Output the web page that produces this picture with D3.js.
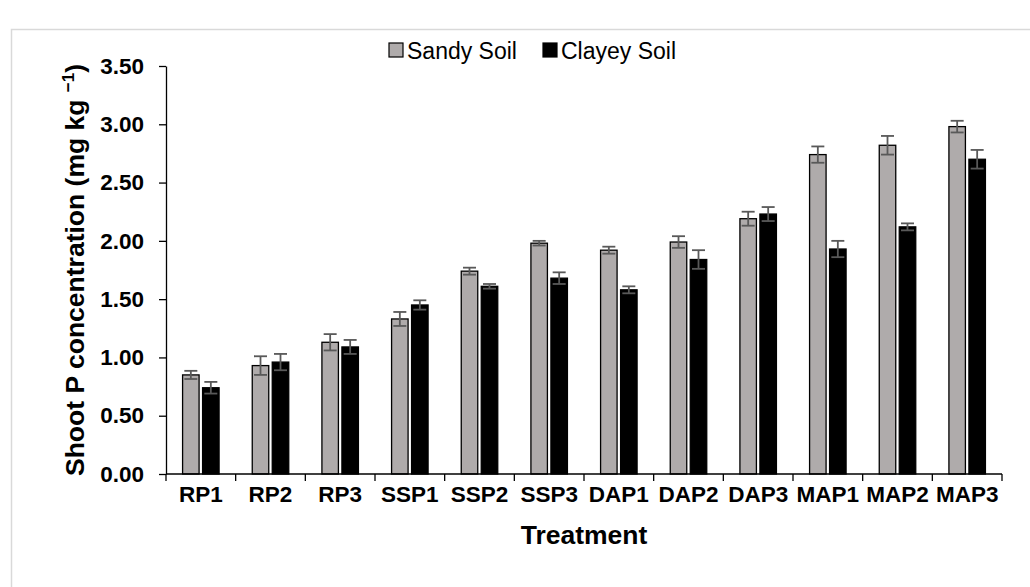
<!DOCTYPE html>
<meta charset="utf-8">
<style>
body { margin: 0; background: #fff; }
svg { display: block; font-family: "Liberation Sans", Arial, sans-serif; }
.axis path, .axis line { stroke: #000; stroke-width: 1.3px; }
.axis text { font-size: 22.5px; font-weight: 700; fill: #000; }
.title { font-size: 26.5px; font-weight: 700; fill: #000; }
.legend text { font-size: 23px; fill: #000; }
</style>
<svg id="chart"></svg>
<script src="https://d3js.org/d3.v7.min.js"></script>
<script>

// values
const treatments = ["RP1", "RP2", "RP3", "SSP1", "SSP2", "SSP3", "DAP1", "DAP2", "DAP3", "MAP1", "MAP2", "MAP3"];
const seriesNames = ["Sandy Soil", "Clayey Soil"];
const sandy    = [0.85, 0.93, 1.13, 1.33, 1.74, 1.98, 1.92, 1.99, 2.19, 2.74, 2.82, 2.98];
const sandyErr = [0.035, 0.08, 0.07, 0.06, 0.03, 0.02, 0.03, 0.05, 0.06, 0.07, 0.08, 0.05];
const clayey   = [0.74, 0.96, 1.09, 1.45, 1.61, 1.68, 1.58, 1.84, 2.23, 1.93, 2.12, 2.70];
const clayErr  = [0.05, 0.07, 0.06, 0.04, 0.02, 0.05, 0.03, 0.08, 0.06, 0.07, 0.03, 0.08];
const yTicks = [0, 0.5, 1, 1.5, 2, 2.5, 3, 3.5];
const colors = ["#afabab", "#000000"];

let svg = d3.select("#chart")
  .attr("width", 1030)
  .attr("height", 587);

// light frame of the chart area (runs off the right and bottom)
svg.append("rect")
  .attr("x", 11.5).attr("y", 29.5)
  .attr("width", 1100).attr("height", 700)
  .attr("fill", "none")
  .attr("stroke", "#d9d9d9")
  .attr("stroke-width", 1.5);

let plot = {left: 166, right: 1002, top: 66, bottom: 474};

let x0 = d3.scaleBand()
  .domain(treatments)
  .range([plot.left, plot.right]);

let x1 = d3.scaleBand()
  .domain(seriesNames)
  .range([x0.bandwidth() / 2 - 18.25, x0.bandwidth() / 2 + 18.25])
  .paddingInner(0.175);

let y = d3.scaleLinear()
  .domain([0, 3.5])
  .range([plot.bottom, plot.top]);

let data = treatments.map((t, i) => ({
  t: t,
  vals: [
    {s: seriesNames[0], v: sandy[i], e: sandyErr[i]},
    {s: seriesNames[1], v: clayey[i], e: clayErr[i]}
  ]
}));

// y axis
let yAxis = svg.append("g")
  .attr("class", "axis")
  .attr("transform", "translate(" + plot.left + ",0)")
  .call(d3.axisLeft(y).tickValues(yTicks).tickFormat(d3.format(".2f")).tickSize(7).tickSizeOuter(0));
yAxis.selectAll("text").attr("x", -22);

// bars
let groups = svg.selectAll(".grp")
  .data(data)
  .enter()
  .append("g")
  .attr("class", "grp")
  .attr("transform", d => "translate(" + x0(d.t) + ",0)");

groups.selectAll("rect")
  .data(d => d.vals)
  .enter()
  .append("rect")
  .attr("x", d => x1(d.s))
  .attr("y", d => y(d.v))
  .attr("width", x1.bandwidth())
  .attr("height", d => plot.bottom - y(d.v))
  .attr("fill", (d, i) => colors[i])
  .attr("stroke", "#000")
  .attr("stroke-width", 1.3);

// error bars
let eb = groups.selectAll(".err")
  .data(d => d.vals)
  .enter()
  .append("g")
  .attr("class", "err")
  .attr("stroke", "#595959")
  .attr("stroke-width", 1.8);

let cx = d => x1(d.s) + x1.bandwidth() / 2;
eb.append("line")
  .attr("x1", cx).attr("x2", cx)
  .attr("y1", d => y(d.v + d.e))
  .attr("y2", d => y(d.v - d.e));
eb.append("line")
  .attr("x1", d => cx(d) - 6.5).attr("x2", d => cx(d) + 6.5)
  .attr("y1", d => y(d.v + d.e))
  .attr("y2", d => y(d.v + d.e));
eb.append("line")
  .attr("x1", d => cx(d) - 6.5).attr("x2", d => cx(d) + 6.5)
  .attr("y1", d => y(d.v - d.e))
  .attr("y2", d => y(d.v - d.e));

// x axis: ticks sit between categories
let xAxis = svg.append("g")
  .attr("class", "axis")
  .attr("transform", "translate(0," + plot.bottom + ")");
xAxis.append("line")
  .attr("x1", plot.left).attr("x2", plot.right);
xAxis.selectAll(".tk")
  .data(treatments.concat(["end"]))
  .enter()
  .append("line")
  .attr("class", "tk")
  .attr("x1", (d, i) => i < treatments.length ? x0(d) : plot.right)
  .attr("x2", (d, i) => i < treatments.length ? x0(d) : plot.right)
  .attr("y1", 0).attr("y2", 7);
xAxis.selectAll(".lbl")
  .data(treatments)
  .enter()
  .append("text")
  .attr("class", "lbl")
  .attr("x", d => x0(d) + x0.bandwidth() / 2)
  .attr("y", 28)
  .attr("text-anchor", "middle")
  .text(d => d);

// axis titles
svg.append("text")
  .attr("class", "title")
  .attr("x", (plot.left + plot.right) / 2)
  .attr("y", 544)
  .attr("text-anchor", "middle")
  .text("Treatment");

let yt = svg.append("text")
  .attr("class", "title")
  .attr("transform", "translate(84," + ((plot.top + plot.bottom) / 2) + ") rotate(-90)")
  .attr("text-anchor", "middle");
yt.append("tspan").text("Shoot P concentration (mg kg ");
yt.append("tspan").attr("font-size", "17px").attr("dy", -10).text("\u22121");
yt.append("tspan").attr("dy", 10).text(")");

// legend
let legend = svg.append("g").attr("class", "legend");
let legendX = [389, 543];
seriesNames.forEach((s, i) => {
  legend.append("rect")
    .attr("x", legendX[i]).attr("y", 43)
    .attr("width", 14).attr("height", 14)
    .attr("fill", colors[i])
    .attr("stroke", "#000")
    .attr("stroke-width", 1.2);
  legend.append("text")
    .attr("x", legendX[i] + 18)
    .attr("y", 59)
    .text(s);
});

</script>
